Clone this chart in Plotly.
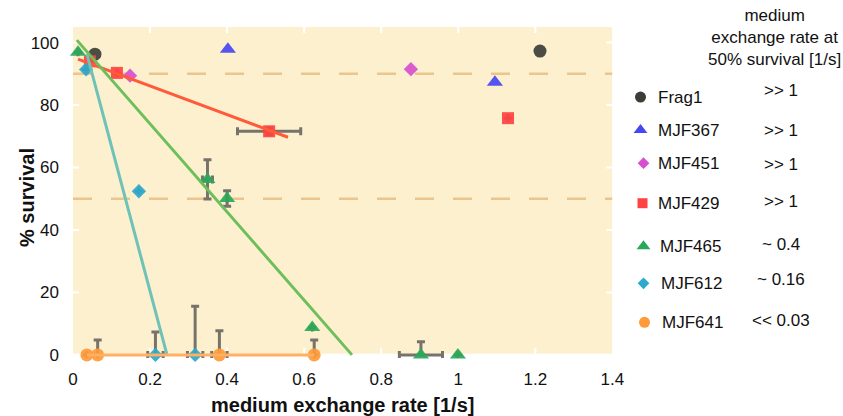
import plotly.graph_objects as go

# ---- measured survival data ----
frag1_x = [0.057, 1.212]
frag1_y = [96.3, 97.3]

mjf367_x = [0.402, 1.095]
mjf367_y = [97.9, 87.3]

mjf451_x = [0.148, 0.877]
mjf451_y = [89.4, 91.5]

mjf429_x = [0.044, 0.114, 0.509, 1.129]
mjf429_y = [94.0, 90.3, 71.6, 75.8]
mjf429_ex = [0, 0, 0.082, 0]
mjf429_ey = [0, 0, 1.0, 0]

mjf465_x = [0.013, 0.349, 0.40, 0.621, 0.903, 0.999]
mjf465_y = [96.9, 56.2, 50.1, 8.8, 0, 0]
mjf465_ex = [0, 0.013, 0, 0, 0.056, 0]
mjf465_ey = [0, 6.3, 2.5, 0, 4.2, 0]

mjf612_x = [0.034, 0.171, 0.214, 0.317]
mjf612_y = [91.4, 52.4, 0, 0]
mjf612_ex = [0, 0, 0.02, 0.02]
mjf612_ey = [0, 0, 7.3, 15.6]

mjf641_x = [0.036, 0.064, 0.38, 0.626]
mjf641_y = [0, 0, 0, 0]
mjf641_ex = [0, 0, 0.02, 0]
mjf641_ey = [0, 4.8, 7.7, 4.8]

# ---- linear trend lines (end points) ----
fit429_x = [0.013, 0.558]
fit429_y = [94.7, 69.7]
fit465_x = [0.010, 0.724]
fit465_y = [100.8, 0.0]
fit612_x = [0.036, 0.244]
fit612_y = [96.4, 0.0]
fit641_x = [0.036, 0.626]
fit641_y = [0.0, 0.0]

# ---- legend table ----
strains = ["Frag1", "MJF367", "MJF451", "MJF429", "MJF465", "MJF612", "MJF641"]
rate_at_50 = [">> 1", ">> 1", ">> 1", ">> 1", "~ 0.4", "~ 0.16", "<< 0.03"]
reference_levels = [90, 50]
x_ticks = [0, 0.2, 0.4, 0.6, 0.8, 1.0, 1.2, 1.4]
x_tick_text = ["0", "0.2", "0.4", "0.6", "0.8", "1", "1.2", "1.4"]
y_ticks = [0, 20, 40, 60, 80, 100]

FONT = "Arial, Liberation Sans, sans-serif"
ERR = "#77736b"
PANEL = "#fdf0cf"

# drawable width of the page to the right of the left margin
PAPER_W = 756

styles = {
    "Frag1": dict(color="#3d3d38", symbol="circle", size=13),
    "MJF367": dict(color="#4646f2", symbol="triangle-up", size=14),
    "MJF451": dict(color="#d84fd0", symbol="diamond", size=11),
    "MJF429": dict(color="#ff4242", symbol="square", size=12),
    "MJF465": dict(color="#2aa85a", symbol="triangle-up", size=14),
    "MJF612": dict(color="#2ea8cc", symbol="diamond", size=11),
    "MJF641": dict(color="#ff9a38", symbol="circle", size=13),
}

series = [
    ("Frag1", frag1_x, frag1_y, None, None),
    ("MJF367", mjf367_x, mjf367_y, None, None),
    ("MJF451", mjf451_x, mjf451_y, None, None),
    ("MJF429", mjf429_x, mjf429_y, mjf429_ex, mjf429_ey),
    ("MJF465", mjf465_x, mjf465_y, mjf465_ex, mjf465_ey),
    ("MJF612", mjf612_x, mjf612_y, mjf612_ex, mjf612_ey),
    ("MJF641", mjf641_x, mjf641_y, mjf641_ex, mjf641_ey),
]

fig = go.Figure()

for name, xs, ys, ex, ey in series:
    st = styles[name]
    kw = {}
    if ex is not None:
        kw["error_x"] = dict(type="data", array=ex, symmetric=True,
                             color=ERR, thickness=3, width=4)
        # survival cannot go below zero: bars only point upward there
        kw["error_y"] = dict(type="data", array=ey,
                             arrayminus=[e if y > 0 else 0 for e, y in zip(ey, ys)],
                             symmetric=False, color=ERR, thickness=3, width=4)
    fig.add_trace(go.Scatter(
        x=xs, y=ys, mode="markers", name=name, cliponaxis=False,
        marker=dict(color=st["color"], symbol=st["symbol"], size=st["size"],
                    opacity=0.92, line=dict(width=0)),
        showlegend=False, **kw))

fits = [
    (fit429_x, fit429_y, "#ff5a3a"),
    (fit465_x, fit465_y, "#6cbf5a"),
    (fit612_x, fit612_y, "#6ec2b6"),
    (fit641_x, fit641_y, "#ffb062"),
]
for fx, fy, col in fits:
    fig.add_trace(go.Scatter(x=fx, y=fy, mode="lines", cliponaxis=False,
                             line=dict(color=col, width=3), showlegend=False,
                             hoverinfo="skip"))

# ---- custom legend on a helper axis measured in screen units ----
leg_marker_x = [639, 639, 642, 641, 642, 642, 643]
leg_marker_y = [97, 130, 163, 203, 246, 283, 322]
leg_text_x = [654, 654, 654, 654, 656, 657, 658]
leg_val_y = [90, 130, 164, 201, 244, 279, 320]
leg_val_x = 779

for i, name in enumerate(strains):
    st = styles[name]
    fig.add_trace(go.Scatter(
        x=[leg_marker_x[i]], y=[leg_marker_y[i]], xaxis="x2", yaxis="y2",
        mode="markers", cliponaxis=False, showlegend=False, hoverinfo="skip",
        marker=dict(color=st["color"], symbol=st["symbol"],
                    size=st["size"] - 2, line=dict(width=0))))
    fig.add_annotation(x=leg_text_x[i], y=leg_marker_y[i], xref="x2", yref="y2",
                       text=name, showarrow=False, xanchor="left", yanchor="middle",
                       font=dict(family=FONT, size=17, color="#111111"))
    fig.add_annotation(x=leg_val_x, y=leg_val_y[i], xref="x2", yref="y2",
                       text=rate_at_50[i], showarrow=False, xanchor="center",
                       yanchor="middle",
                       font=dict(family=FONT, size=17, color="#111111"))

fig.add_annotation(x=773, y=37, xref="x2", yref="y2",
                   text="medium<br>exchange rate at<br>50% survival [1/s]",
                   showarrow=False, xanchor="center", yanchor="middle",
                   font=dict(family=FONT, size=17, color="#111111"))

# y-axis title
fig.add_annotation(x=-46 / PAPER_W, y=0.486, xref="paper", yref="paper",
                   text="<b>% survival</b>", textangle=-90, showarrow=False,
                   xanchor="center", yanchor="middle",
                   font=dict(family=FONT, size=20, color="#111111"))

# cream panel behind the data
fig.add_shape(type="rect", xref="x", yref="y", x0=0, x1=1.4, y0=0.35, y1=105,
              fillcolor=PANEL, line=dict(width=0), layer="below")

for lvl in reference_levels:
    fig.add_shape(type="line", xref="x", yref="y", x0=0, x1=1.4, y0=lvl, y1=lvl,
                  line=dict(color="#ecc58e", width=2.5, dash="19px,19px"),
                  layer="below")

fig.update_layout(
    width=843, height=416, autosize=False,
    margin=dict(l=73, r=0, t=27, b=58.4),
    paper_bgcolor="white",
    plot_bgcolor="rgba(0,0,0,0)",
    font=dict(family=FONT, size=17, color="#111111"),
    xaxis=dict(domain=[0, 538 / PAPER_W], range=[0, 1.4], tickvals=x_ticks,
               ticktext=x_tick_text, ticks="", showgrid=False, zeroline=False,
               showline=False, ticklabelstandoff=9,
               title=dict(text="<b>medium exchange rate [1/s]</b>",
                          font=dict(size=20), standoff=10)),
    yaxis=dict(range=[-1, 105], tickvals=y_ticks, ticks="", showgrid=False,
               zeroline=False, showline=False, ticklabelstandoff=13),
    xaxis2=dict(domain=[0, 1], range=[73, 73 + PAPER_W], visible=False, anchor="y2"),
    yaxis2=dict(domain=[0, 1], range=[357.6, 27], visible=False, anchor="x2"),
)

# short white tick marks pointing inward on all four edges of the panel
for xv in x_ticks[1:-1]:
    for y0, y1 in [(0.35, 2.3), (103.1, 105)]:
        fig.add_shape(type="line", xref="x", yref="y", x0=xv, x1=xv, y0=y0, y1=y1,
                      line=dict(color="white", width=2), layer="below")
for yv in y_ticks[1:]:
    for x0, x1 in [(0, 0.016), (1.384, 1.4)]:
        fig.add_shape(type="line", xref="x", yref="y", x0=x0, x1=x1, y0=yv, y1=yv,
                      line=dict(color="white", width=2), layer="below")

fig.write_html("out.html", config={"responsive": False})
